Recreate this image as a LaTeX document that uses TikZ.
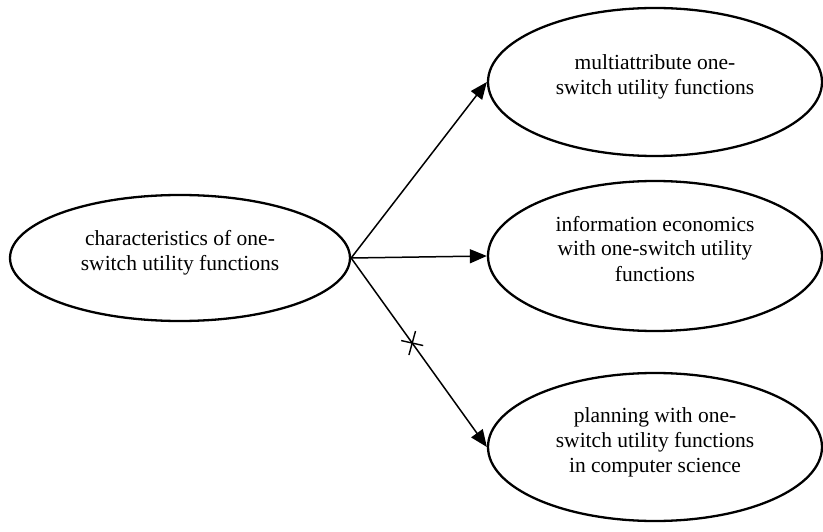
\documentclass[tikz,border=0pt]{standalone}
\usepackage{fontspec}
\setmainfont{Liberation Serif}
\usetikzlibrary{arrows.meta,shapes.geometric}
\tikzset{
  ell/.style={draw, ellipse, line width=2.3pt, inner sep=0pt, align=center,
    font=\fontsize{21.5pt}{25pt}\selectfont},
  conn/.style={line width=1.5pt, -{Triangle[length=17pt,width=14pt]}},
  tick/.style={line width=1.4pt}
}
\newcommand{\up}[1]{\raisebox{5pt}[\height][\depth]{\begin{tabular}{@{}c@{}}#1\end{tabular}}}
\begin{document}
\begin{tikzpicture}[x=1pt,y=-1pt]
\useasboundingbox (0,0) rectangle (823,532);
\node[ell, minimum width=340pt, minimum height=126pt] (a) at (180,258)
  {\up{characteristics of one-\\switch utility functions}};
\node[ell, minimum width=334pt, minimum height=148pt] (b) at (655,82)
  {\up{multiattribute one-\\switch utility functions}};
\node[ell, minimum width=334pt, minimum height=150pt] (c) at (655,256)
  {\up{information economics\\with one-switch utility\\functions}};
\node[ell, minimum width=334pt, minimum height=148pt] (d) at (655,447)
  {\up{planning with one-\\switch utility functions\\in computer science}};
\draw[conn] (a.east) -- (b.west);
\draw[conn] (a.east) -- (c.west);
\draw[conn] (a.east) -- coordinate[pos=0.45] (x) (d.west);
\draw[tick] ([shift={(-11,-2.5)}]x) -- ([shift={(11,2.5)}]x);
\draw[tick] ([shift={(-3.3,12)}]x) -- ([shift={(3.3,-12)}]x);
\end{tikzpicture}
\end{document}
